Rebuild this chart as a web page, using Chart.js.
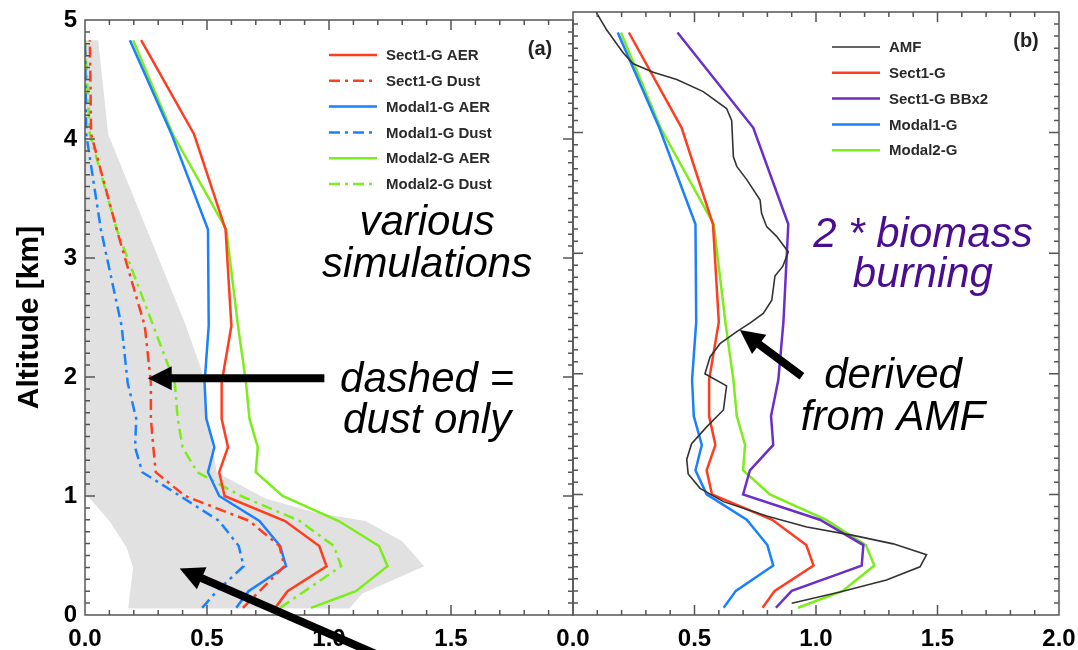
<!DOCTYPE html>
<html>
<head>
<meta charset="utf-8">
<script src="https://cdn.jsdelivr.net/npm/chart.js@4.4.1/dist/chart.umd.min.js"></script>
<style>
  html, body { margin: 0; padding: 0; background: #fff; }
  #wrap { position: relative; width: 1078px; height: 650px; overflow: hidden; }
  canvas { position: absolute; top: 0; }
  #panelA { left: 0; }
  #panelB { left: 540px; }
</style>
</head>
<body>
<div id="wrap">
  <canvas id="panelA" width="600" height="650"></canvas>
  <canvas id="panelB" width="538" height="650"></canvas>
</div>
<script>
// model levels (km) shared by the simulated profiles
var altLevels = [0.06, 0.2, 0.41, 0.58, 0.79, 1.0, 1.2, 1.41, 1.65, 1.95, 2.43, 3.24, 4.04, 4.83];

var sect1Aer   = [0.78, 0.83, 0.99, 0.96, 0.82, 0.572, 0.55, 0.586, 0.56, 0.56, 0.60, 0.576, 0.447, 0.23];
var sect1Dust  = [0.647, 0.715, 0.817, 0.797, 0.674, 0.41, 0.29, 0.28, 0.27, 0.27, 0.245, 0.13, 0.025, 0.02];
var modal1Aer  = [0.62, 0.67, 0.824, 0.80, 0.715, 0.55, 0.504, 0.53, 0.497, 0.49, 0.507, 0.504, 0.355, 0.184];
var modal1Dust = [0.48, 0.54, 0.65, 0.63, 0.55, 0.39, 0.235, 0.205, 0.21, 0.175, 0.15, 0.065, 0.005, 0.0];
var modal2Aer  = [0.926, 1.11, 1.24, 1.205, 1.04, 0.81, 0.70, 0.708, 0.674, 0.66, 0.627, 0.579, 0.36, 0.197];
var modal2Dust = [0.80, 0.90, 1.05, 1.02, 0.88, 0.64, 0.46, 0.40, 0.38, 0.368, 0.28, 0.13, 0.02, 0.0];
var sect1BBx2  = [0.835, 0.90, 1.188, 1.195, 1.016, 0.70, 0.728, 0.824, 0.815, 0.845, 0.866, 0.886, 0.742, 0.43];

// AMF derived profile
var amfAlt = [5.0, 4.85, 4.66, 4.57, 4.50, 4.44, 4.34, 4.20, 4.10, 3.80, 3.72, 3.61, 3.44, 3.33, 3.22, 3.14, 3.01,
              2.89, 2.81, 2.61, 2.50, 2.42, 2.35, 2.25, 2.14, 2.00, 1.90, 1.70, 1.56, 1.42, 1.29, 1.17, 1.05,
              0.94, 0.82, 0.73, 0.66, 0.59, 0.50, 0.40, 0.29, 0.19, 0.097];
var amfVal = [0.095, 0.139, 0.207, 0.248, 0.33, 0.427, 0.536, 0.632, 0.653, 0.66, 0.674, 0.715, 0.77, 0.776, 0.797, 0.838, 0.886,
              0.863, 0.831, 0.818, 0.783, 0.728, 0.674, 0.605, 0.564, 0.543, 0.632, 0.619, 0.55, 0.488, 0.468, 0.474, 0.523,
              0.619, 0.797, 0.962, 1.153, 1.318, 1.455, 1.428, 1.29, 1.099, 0.90];

// grey envelope (outline of the shaded range)
var envX   = [0.177, 1.083, 1.137, 1.39, 1.30, 1.15, 0.947, 0.74, 0.565, 0.54, 0.51, 0.477, 0.41, 0.095, 0.054, 0.0, 0.0, 0.02, 0.10, 0.17, 0.197];
var envAlt = [0.055, 0.055, 0.18, 0.41, 0.62, 0.79, 0.86, 0.98, 1.17, 1.2, 1.56, 2.06, 2.45, 4.04, 4.83, 4.83, 1.0, 0.98, 0.79, 0.57, 0.40];

var fontFamily = "'Liberation Sans', Helvetica, Arial, sans-serif";
var RED = "#ff3d1f", BLUE = "#1a80ff", GREEN = "#7ced1a", PURPLE = "#6a2ec9", AMF = "#333333";
var dashDot = [11, 5, 3, 5];
var frameColor = "#555";

function pts(xs, ys) {
    return xs.map(function (x, i) { return { x: x, y: ys[i] }; });
}

function line(label, xs, ys, color, dash, width) {
    return {
        label: label,
        data: pts(xs, ys),
        borderColor: color,
        borderWidth: width || 2.5,
        borderDash: dash || [],
        pointRadius: 0,
        fill: false,
        tension: 0
    };
}

function drawArrow(ctx, x1, y1, x2, y2) {
    var ang = Math.atan2(y2 - y1, x2 - x1), head = 24, half = 12;
    var bx = x2 - head * Math.cos(ang), by = y2 - head * Math.sin(ang);
    ctx.strokeStyle = "#000";
    ctx.fillStyle = "#000";
    ctx.lineWidth = 8;
    ctx.lineCap = "butt";
    ctx.beginPath();
    ctx.moveTo(x1, y1);
    ctx.lineTo(bx + 2 * Math.cos(ang), by + 2 * Math.sin(ang));
    ctx.stroke();
    ctx.beginPath();
    ctx.moveTo(x2, y2);
    ctx.lineTo(bx + half * Math.sin(ang), by - half * Math.cos(ang));
    ctx.lineTo(bx - half * Math.sin(ang), by + half * Math.cos(ang));
    ctx.closePath();
    ctx.fill();
}

// frame, inward ticks, legend, panel letter and annotations
function decor(cfg) {
    return {
        id: "decor",
        afterDraw: function (chart) {
            var ctx = chart.ctx, a = chart.chartArea;
            var xs = chart.scales.x, ys = chart.scales.y;
            ctx.save();

            ctx.strokeStyle = frameColor;
            ctx.lineWidth = 1.5;
            ctx.strokeRect(a.left, a.top, a.right - a.left, a.bottom - a.top);
            ctx.beginPath();
            for (var i = 1; i < 20; i++) {
                var px = xs.getPixelForValue(i / 10);
                var len = i % 5 === 0 ? 10 : 5;
                ctx.moveTo(px, a.bottom); ctx.lineTo(px, a.bottom - len);
                ctx.moveTo(px, a.top); ctx.lineTo(px, a.top + len);
            }
            for (var j = 1; j < 50; j++) {
                var py = ys.getPixelForValue(j / 10);
                var l = j % 10 === 0 ? 10 : 5;
                ctx.moveTo(a.left, py); ctx.lineTo(a.left + l, py);
                ctx.moveTo(a.right, py); ctx.lineTo(a.right - l, py);
            }
            ctx.stroke();

            // legend
            var lx = a.left + cfg.legendX, ly = a.top + 35;
            chart.data.datasets.forEach(function (ds) {
                if (!ds.label) return;
                ctx.strokeStyle = ds.borderColor;
                ctx.lineWidth = ds.borderWidth;
                ctx.setLineDash(ds.borderDash);
                ctx.beginPath();
                ctx.moveTo(lx, ly);
                ctx.lineTo(lx + 48, ly);
                ctx.stroke();
                ctx.setLineDash([]);
                ctx.fillStyle = "#2a2a2a";
                ctx.font = "bold 15px " + fontFamily;
                ctx.textAlign = "left";
                ctx.textBaseline = "middle";
                ctx.fillText(ds.label, lx + 57, ly + 1);
                ly += 25.8;
            });

            ctx.fillStyle = "#222";
            ctx.font = "bold 20px " + fontFamily;
            ctx.textAlign = "center";
            ctx.textBaseline = "alphabetic";
            ctx.fillText(cfg.letter, a.right - 33, a.top + 35);

            ctx.font = "italic 42px " + fontFamily;
            cfg.texts.forEach(function (t) {
                ctx.fillStyle = t.color || "#000";
                ctx.fillText(t.text, xs.getPixelForValue(t.x), ys.getPixelForValue(t.y));
            });

            cfg.arrows.forEach(function (ar) {
                drawArrow(ctx,
                    xs.getPixelForValue(ar.from[0]), ys.getPixelForValue(ar.from[1]),
                    xs.getPixelForValue(ar.to[0]), ys.getPixelForValue(ar.to[1]));
            });
            ctx.restore();
        }
    };
}

var tickFont = { family: fontFamily, size: 24, weight: "bold", lineHeight: 1 };

function scalesFor(showY, hideLast) {
    return {
        x: {
            type: "linear", min: 0, max: 2,
            grid: { display: false, drawTicks: false },
            border: { display: false },
            ticks: {
                stepSize: 0.5, padding: 12, color: "#000", font: tickFont,
                maxRotation: 0, autoSkip: false,
                callback: function (v) { return (hideLast && v >= 2) ? "" : v.toFixed(1); }
            },
            afterFit: function (s) {
                s.height = 35;
                s.paddingLeft = 0;
                s.paddingRight = 0;
            }
        },
        y: {
            type: "linear", min: 0, max: 5, display: showY,
            grid: { display: false, drawTicks: false },
            border: { display: false },
            ticks: { stepSize: 1, padding: 8, color: "#000", font: tickFont },
            title: {
                display: true, text: "Altitude [km]", color: "#000",
                font: { family: fontFamily, size: 30, weight: "bold", lineHeight: 1.2 },
                padding: { top: 12, bottom: 0 }
            },
            afterFit: function (s) { s.width = showY ? 85 : 0; }
        }
    };
}

new Chart(document.getElementById("panelA"), {
    type: "line",
    data: {
        datasets: [
            line("Sect1-G AER", sect1Aer, altLevels, RED),
            line("Sect1-G Dust", sect1Dust, altLevels, RED, dashDot),
            line("Modal1-G AER", modal1Aer, altLevels, BLUE),
            line("Modal1-G Dust", modal1Dust, altLevels, BLUE, dashDot),
            line("Modal2-G AER", modal2Aer, altLevels, GREEN),
            line("Modal2-G Dust", modal2Dust, altLevels, GREEN, dashDot),
            {
                data: pts(envX, envAlt),
                fill: "shape",
                backgroundColor: "#e1e1e1",
                borderColor: "rgba(0,0,0,0)",
                borderWidth: 0,
                pointRadius: 0
            }
        ]
    },
    options: {
        responsive: false, animation: false, events: [],
        layout: { padding: { left: 0, right: 27, top: 12, bottom: 0 } },
        plugins: { legend: { display: false }, tooltip: { enabled: false } },
        scales: scalesFor(true, true)
    },
    plugins: [decor({
        letter: "(a)", legendX: 244,
        texts: [
            { text: "various", x: 1.402, y: 3.192 },
            { text: "simulations", x: 1.402, y: 2.844 },
            { text: "dashed =", x: 1.402, y: 1.874 },
            { text: "dust only", x: 1.402, y: 1.526 }
        ],
        arrows: [
            { from: [0.981, 1.99], to: [0.257, 1.99] },
            { from: [1.25, -0.38], to: [0.388, 0.39] }
        ]
    })]
});

new Chart(document.getElementById("panelB"), {
    type: "line",
    data: {
        datasets: [
            line("AMF", amfVal, amfAlt, AMF, null, 1.6),
            line("Sect1-G", sect1Aer, altLevels, RED),
            line("Sect1-G BBx2", sect1BBx2, altLevels, PURPLE),
            line("Modal1-G", modal1Aer, altLevels, BLUE),
            line("Modal2-G", modal2Aer, altLevels, GREEN)
        ]
    },
    options: {
        responsive: false, animation: false, events: [],
        layout: { padding: { left: 33, right: 19, top: 12, bottom: 0 } },
        plugins: { legend: { display: false }, tooltip: { enabled: false } },
        scales: scalesFor(false, false)
    },
    plugins: [decor({
        letter: "(b)", legendX: 259,
        texts: [
            { text: "2 * biomass", x: 1.44, y: 3.051, color: "#4a0d8f" },
            { text: "burning", x: 1.44, y: 2.72, color: "#4a0d8f" },
            { text: "derived", x: 1.317, y: 1.882 },
            { text: "from AMF", x: 1.317, y: 1.534 }
        ],
        arrows: [
            { from: [0.942, 1.98], to: [0.687, 2.363] }
        ]
    })]
});
</script>
</body>
</html>
